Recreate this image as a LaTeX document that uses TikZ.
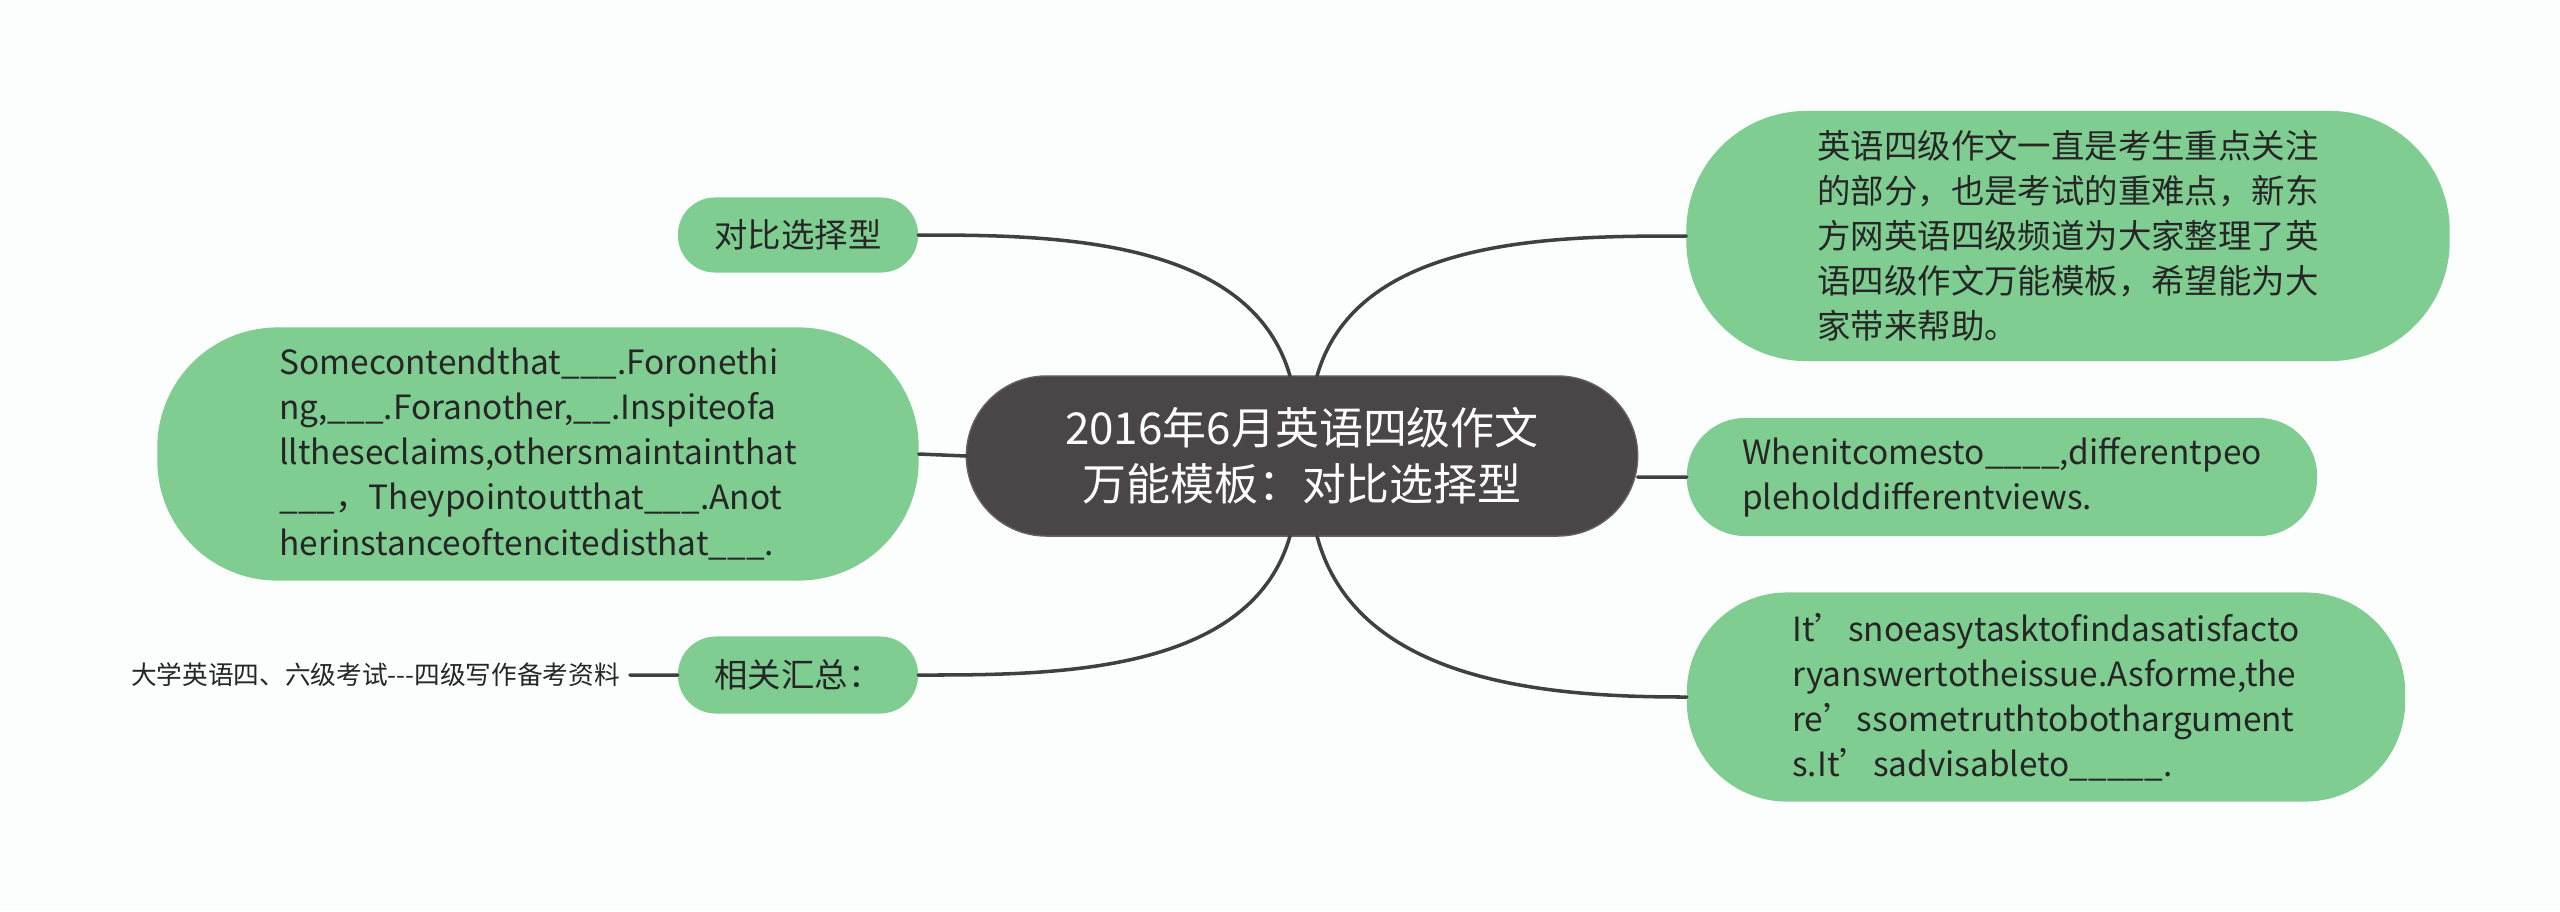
\documentclass[tikz,border=0pt]{standalone}
\usepackage{fontspec}
\newfontfamily\cjk{Noto Sans CJK SC}
\usetikzlibrary{positioning,calc}
\definecolor{leafgreen}{HTML}{80CD92}
\definecolor{rootgray}{HTML}{4A4546}
\definecolor{linegray}{HTML}{404040}
\definecolor{paper}{HTML}{FCFEFE}

\begin{document}
\begin{tikzpicture}[
        x=0.01cm,y=-0.01cm,
        every node/.style = {font=\cjk,inner sep=0pt,outer sep=0pt},
        rootbox/.style = {fill=rootgray,draw=rootgray!85!white,text=white,align=center,
            rounded corners=0.8cm,minimum width=6.71cm,minimum height=1.6cm,
            font=\cjk\fontsize{12.5}{16}\selectfont},
        leafbox/.style = {fill=leafgreen,text=black!85,align=left,
            font=\cjk\fontsize{9.5}{12.8}\selectfont},
        link/.style = {draw=linegray,line width=1pt,line cap=round},
        ]
        \fill[paper] (0,0) rectangle (2560,911);
        \useasboundingbox (0,0) rectangle (2560,911);

        \node (root) [rootbox] at (1302,456) {2016年6月英语四级作文\\万能模板：对比选择型};

        \node (intro) [leafbox,minimum width=7.63cm,minimum height=2.5cm,rounded corners=1.2cm] at (2068,236)
            {英语四级作文一直是考生重点关注\\的部分，也是考试的重难点，新东\\方网英语四级频道为大家整理了英\\语四级作文万能模板，希望能为大\\家带来帮助。};
        \node (views) [leafbox,minimum width=6.3cm,minimum height=1.18cm,rounded corners=0.58cm] at (2002,477)
            {Whenitcomesto\_\_\_\_,differentpeo\\pleholddifferentviews.};
        \node (advise) [leafbox,minimum width=7.18cm,minimum height=2.09cm,rounded corners=1cm] at (2046,697)
            {It’snoeasytasktofindasatisfacto\\ryanswertotheissue.Asforme,the\\re’ssometruthtobothargument\\s.It’sadvisableto\_\_\_\_\_.};

        \node (pick) [leafbox,minimum width=2.4cm,minimum height=0.75cm,rounded corners=0.37cm] at (798,235) {对比选择型};
        \node (claims) [leafbox,minimum width=7.61cm,minimum height=2.53cm,rounded corners=1.2cm] at (538,454)
            {Somecontendthat\_\_\_.Foronethi\\ng,\_\_\_.Foranother,\_\_.Inspiteofa\\lltheseclaims,othersmaintainthat\\\_\_\_，Theypointoutthat\_\_\_.Anot\\herinstanceoftencitedisthat\_\_\_.};
        \node (summary) [leafbox,minimum width=2.4cm,minimum height=0.77cm,rounded corners=0.38cm] at (798,675) {相关汇总：};
        \node (source) [left=0.48cm of summary,inner xsep=0.1cm,text=black!85,font=\cjk\fontsize{7.3}{9}\selectfont]
            {大学英语四、六级考试---四级写作备考资料};

        \draw[link]
        ([xshift=-0.12cm]root.north) .. controls +(-40,-140) and +(130,0) .. (pick.east)
        ([xshift=0.15cm]root.north) .. controls +(40,-140) and +(-130,0) .. (intro.west)
        (root.west) -- (claims.east)
        (views.west -| root.east) -- (views.west)
        ([xshift=-0.12cm]root.south) .. controls +(-40,140) and +(130,0) .. (summary.east)
        ([xshift=0.15cm]root.south) .. controls +(40,150) and +(-130,0) .. (advise.west)
        (summary.west) -- (source.east)
        ;
    \end{tikzpicture}
\end{document}
